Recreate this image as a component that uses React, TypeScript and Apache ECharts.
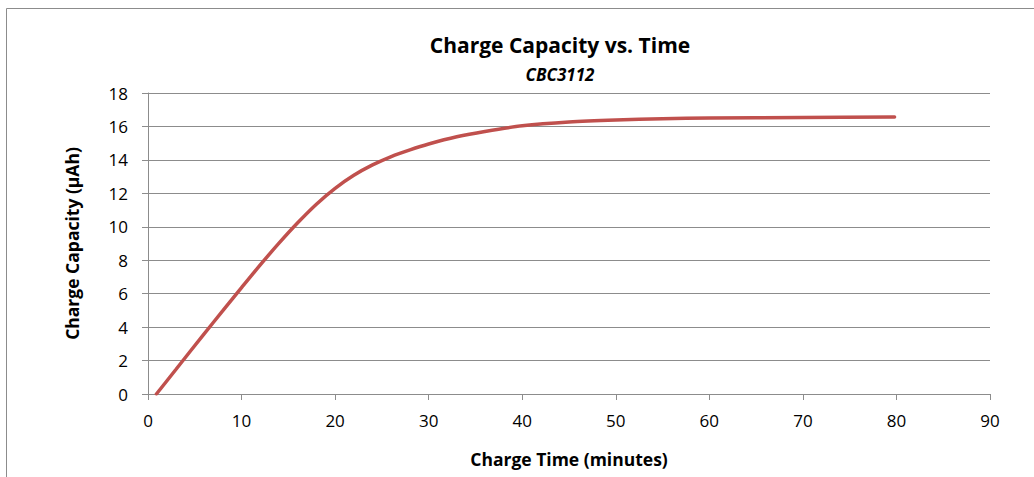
import React, { useEffect, useRef } from "react";
import * as echarts from "echarts";

const timeMinutes = [0.9, 3, 6, 8, 10, 12, 14, 16, 18, 20, 22, 24, 26, 28, 30, 33, 36, 40, 45, 50, 55, 60, 70, 79.8];
const capacity = [0, 1.48, 3.6, 4.98, 6.36, 7.72, 9.02, 10.24, 11.35, 12.3, 13.08, 13.7, 14.2, 14.6, 14.95, 15.38, 15.7, 16.04, 16.27, 16.39, 16.46, 16.5, 16.54, 16.57];

const FONT = "'Open Sans'";

export default function App() {
  const ref = useRef<HTMLDivElement>(null);
  useEffect(() => {
    const chart = echarts.init(ref.current!, null, { renderer: "svg" });
    chart.setOption({
      animation: false,
      backgroundColor: "#ffffff",
      graphic: [
        {
          type: "rect",
          shape: { x: 6.5, y: 8.5, width: 1200, height: 700 },
          style: { fill: "none", stroke: "#8c8c8c", lineWidth: 1 },
          silent: true,
        },
      ],
      title: [
        {
          text: "Charge Capacity vs. Time",
          left: 555,
          top: 29,
          textAlign: "center",
          textStyle: { fontFamily: FONT, fontWeight: "bold", fontSize: 21, color: "#000" },
        },
        {
          text: "CBC3112",
          left: 555,
          top: 61,
          textAlign: "center",
          textStyle: { fontFamily: FONT, fontWeight: "bold", fontStyle: "italic", fontSize: 17, color: "#000" },
        },
      ],
      grid: { left: 148, right: 44, top: 93, bottom: 83 },
      xAxis: {
        type: "value",
        min: 0,
        max: 90,
        interval: 10,
        name: "Charge Time (minutes)",
        nameLocation: "middle",
        nameGap: 56,
        nameTextStyle: { fontFamily: FONT, fontWeight: "bold", fontSize: 17.5, color: "#000" },
        axisLine: { show: true, lineStyle: { color: "#8c8c8c", width: 1 } },
        axisTick: { show: true, length: 6, lineStyle: { color: "#8c8c8c" } },
        axisLabel: { fontFamily: FONT, fontSize: 17, color: "#000", margin: 18 },
        splitLine: { show: false },
      },
      yAxis: {
        type: "value",
        min: 0,
        max: 18,
        interval: 2,
        name: "Charge Capacity (µAh)",
        nameLocation: "middle",
        nameGap: 67,
        nameRotate: 90,
        nameTextStyle: { fontFamily: FONT, fontWeight: "bold", fontSize: 17.5, color: "#000" },
        axisLine: { show: true, lineStyle: { color: "#8c8c8c", width: 1 } },
        axisTick: { show: true, length: 6, lineStyle: { color: "#8c8c8c" } },
        axisLabel: { fontFamily: FONT, fontSize: 17, color: "#000", margin: 20 },
        splitLine: { show: true, lineStyle: { color: "#8c8c8c", width: 1 } },
      },
      series: [
        {
          type: "line",
          data: timeMinutes.map((t, i) => [t, capacity[i]]),
          smooth: 0.3,
          showSymbol: false,
          lineStyle: { color: "#C0504D", width: 3.5, cap: "round" },
        },
      ],
    });
    return () => chart.dispose();
  }, []);
  return (
    <div
      ref={ref}
      style={{ position: "fixed", left: 0, top: 0, width: 1034, height: 477 }}
    />
  );
}
